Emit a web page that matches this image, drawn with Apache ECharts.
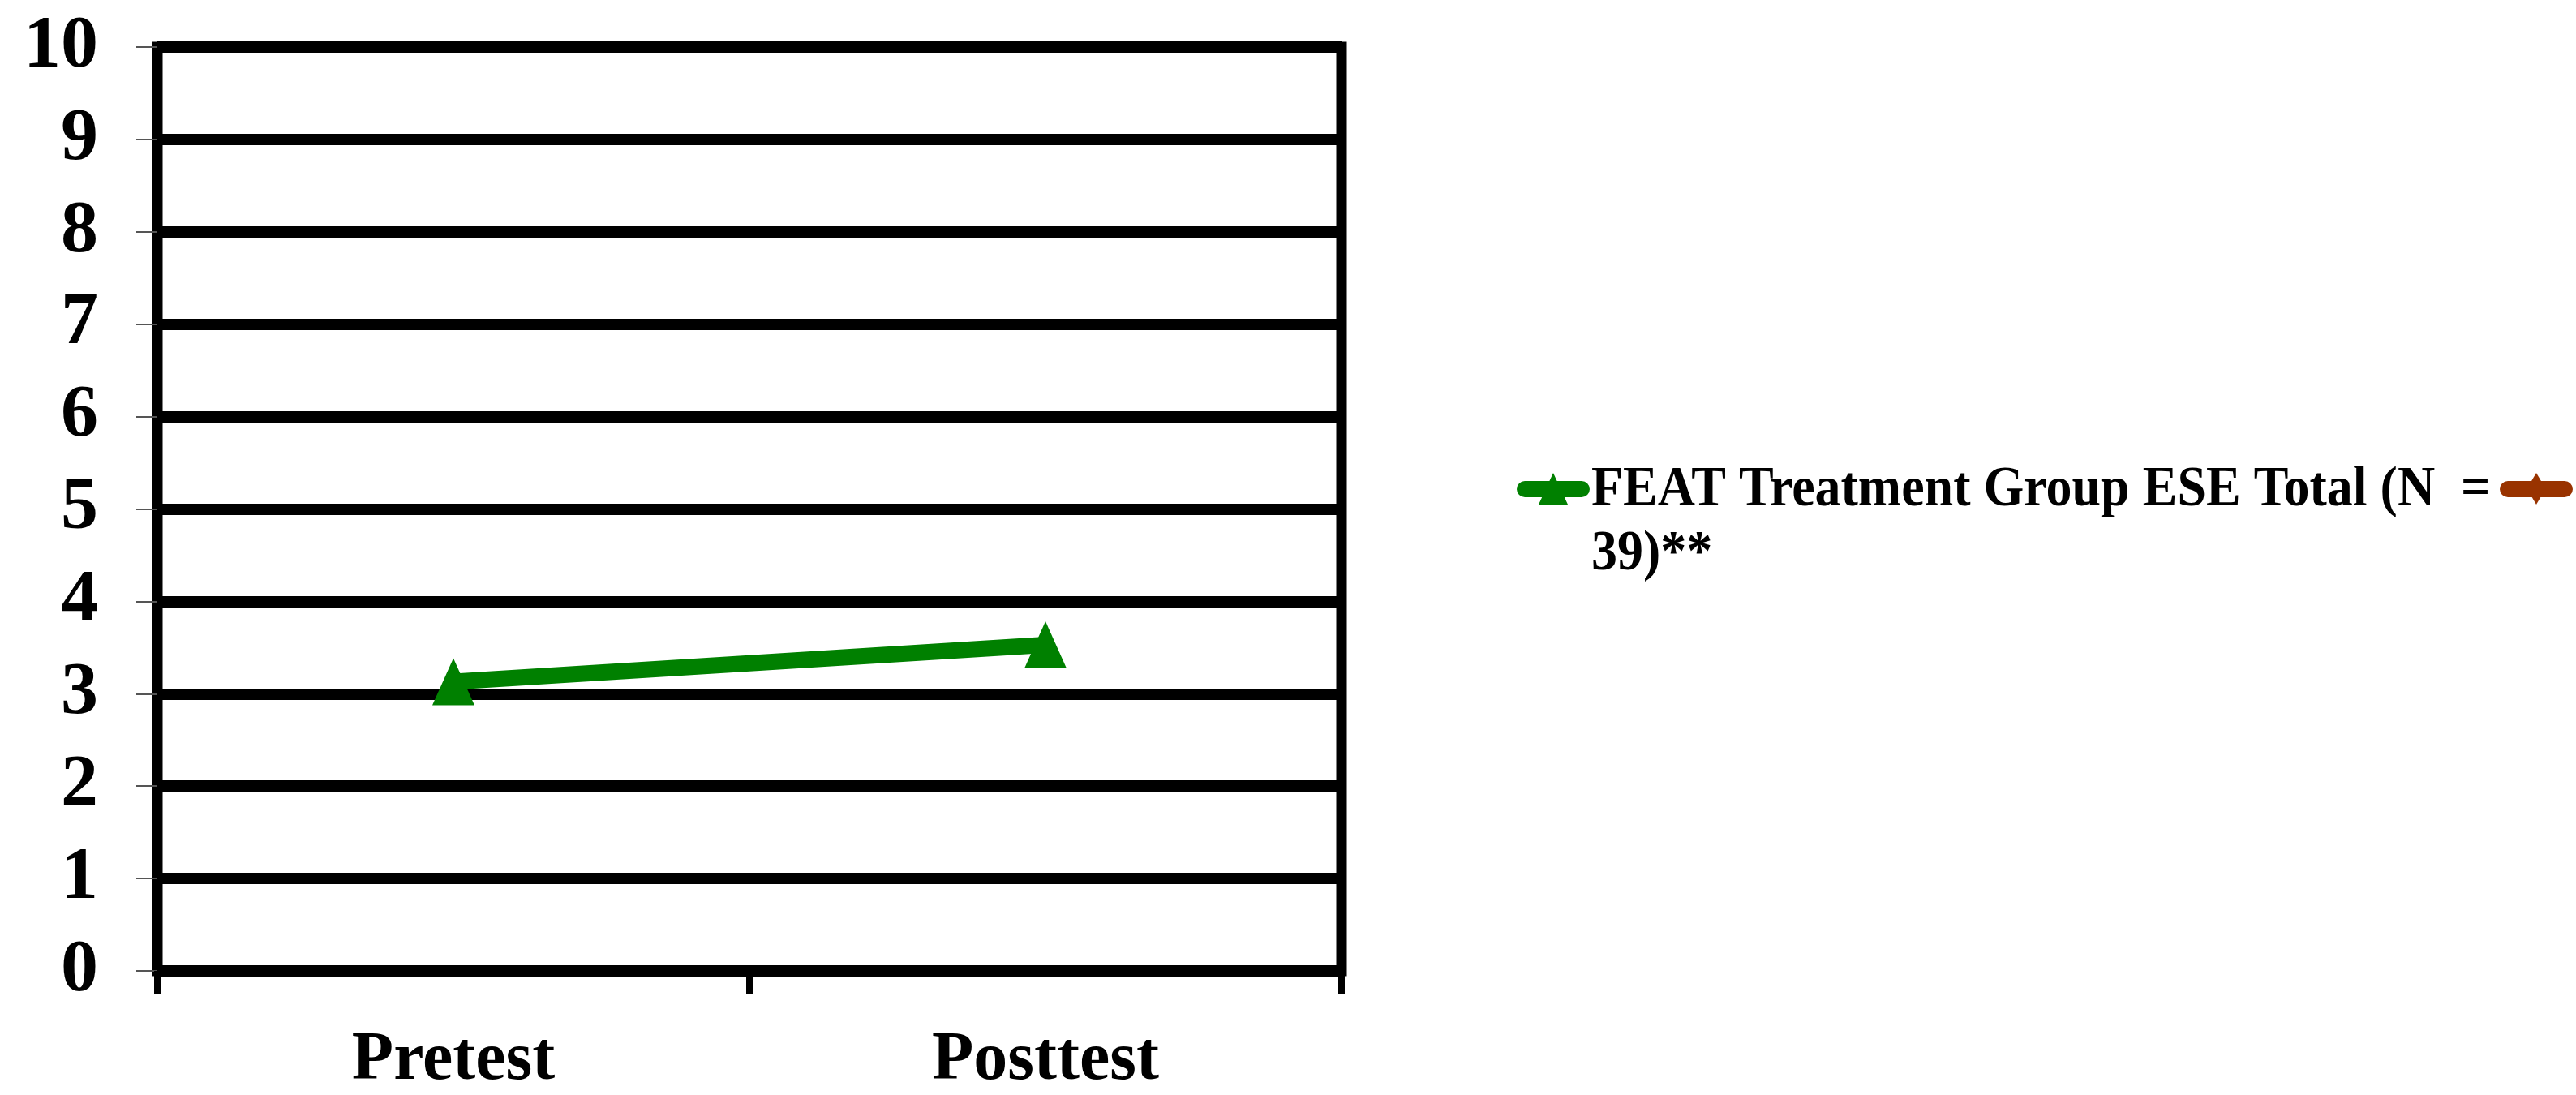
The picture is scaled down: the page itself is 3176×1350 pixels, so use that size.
<!DOCTYPE html>
<html>
<head>
<meta charset="utf-8">
<script src="https://cdn.jsdelivr.net/npm/echarts@6/dist/echarts.min.js"></script>
<style>
  html, body { margin: 0; padding: 0; background: #ffffff; }
  #chart { width: 3176px; height: 1350px; }
</style>
</head>
<body>
<div id="chart"></div>
<script>
// Test occasions on the x axis
const categories = ['Pretest', 'Posttest'];
// Mean ESE total score at each occasion
const featTreatment = [3.13, 3.53];
// Y axis range and step
const yMin = 0;
const yMax = 10;
const yStep = 1;
// Legend entry text (wraps onto two lines)
const legendLine1 = 'FEAT Treatment Group ESE Total (N  =';
const legendLine2 = '39)**';

const FONT = 'Liberation Serif';
const GREEN = '#008000';
const BROWN = '#993300';

const chart = echarts.init(document.getElementById('chart'), null, { renderer: 'canvas' });

chart.setOption({
  backgroundColor: '#ffffff',
  animation: false,
  grid: {
    left: 194,
    top: 58,
    width: 1460,
    height: 1146,
    show: true,
    borderColor: '#000000',
    borderWidth: 13,
    backgroundColor: 'transparent'
  },
  xAxis: {
    type: 'category',
    data: categories,
    boundaryGap: true,
    axisLine: { show: false },
    axisTick: {
      show: true,
      length: 28,
      interval: 0,
      lineStyle: { color: '#000000', width: 8 }
    },
    axisLabel: {
      margin: 69,
      fontFamily: FONT,
      fontWeight: 'bold',
      fontSize: 84,
      color: '#000000'
    },
    splitLine: { show: false }
  },
  yAxis: {
    type: 'value',
    min: yMin,
    max: yMax,
    interval: yStep,
    axisLine: { show: false },
    axisTick: {
      show: true,
      length: 26,
      lineStyle: { color: '#555555', width: 2 }
    },
    axisLabel: {
      margin: 73,
      fontFamily: FONT,
      fontWeight: 'bold',
      fontSize: 92,
      color: '#000000'
    },
    splitLine: { show: true, lineStyle: { color: '#000000', width: 14 } }
  },
  series: [
    {
      name: 'FEAT Treatment Group ESE Total (N = 39)**',
      type: 'line',
      data: featTreatment,
      symbol: 'triangle',
      symbolSize: [52, 58],
      lineStyle: { color: GREEN, width: 20 },
      itemStyle: { color: GREEN },
      z: 5
    }
  ],
  graphic: [
    // first legend key: green line with triangle marker
    {
      type: 'line',
      shape: { x1: 1880, y1: 603, x2: 1950, y2: 603 },
      style: { stroke: GREEN, lineWidth: 20, lineCap: 'round' }
    },
    {
      type: 'polygon',
      shape: { points: [[1915, 583], [1897, 622], [1933, 622]] },
      style: { fill: GREEN }
    },
    {
      type: 'text',
      x: 1962,
      y: 605,
      scaleY: 1.1,
      style: {
        text: legendLine1,
        font: 'bold 64px "' + FONT + '"',
        fill: '#000000',
        align: 'left',
        verticalAlign: 'middle'
      }
    },
    {
      type: 'text',
      x: 1962,
      y: 684,
      scaleY: 1.1,
      style: {
        text: legendLine2,
        font: 'bold 64px "' + FONT + '"',
        fill: '#000000',
        align: 'left',
        verticalAlign: 'middle'
      }
    },
    // second legend key: brown line with diamond marker
    {
      type: 'line',
      shape: { x1: 3092, y1: 603, x2: 3162, y2: 603 },
      style: { stroke: BROWN, lineWidth: 20, lineCap: 'round' }
    },
    {
      type: 'polygon',
      shape: { points: [[3127, 583], [3115.5, 602.5], [3127, 622], [3138.5, 602.5]] },
      style: { fill: BROWN }
    }
  ]
});
</script>
</body>
</html>
